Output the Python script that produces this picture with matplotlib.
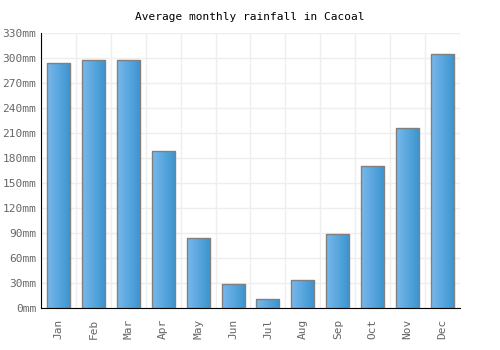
import numpy as np
import matplotlib.pyplot as plt
from matplotlib.colors import LinearSegmentedColormap

months = ['Jan', 'Feb', 'Mar', 'Apr', 'May', 'Jun', 'Jul', 'Aug', 'Sep', 'Oct', 'Nov', 'Dec']
rainfall = [294, 297, 298, 188, 84, 29, 11, 34, 89, 170, 216, 305]
yticks = list(range(0, 331, 30))

fig = plt.figure(figsize=(5, 3.5), dpi=100)
ax = fig.add_axes([0.082, 0.12, 0.838, 0.786])

x = np.arange(len(months))
bars = ax.bar(x, rainfall, width=0.66, color='none', edgecolor='#808080', linewidth=1, zorder=3)

# horizontal gradient inside each bar
cmap = LinearSegmentedColormap.from_list('rain', ['#78b8ec', '#3a94cf'])
grad = np.linspace(0, 1, 64).reshape(1, -1)
for b in bars:
    im = ax.imshow(grad, cmap=cmap, aspect='auto', zorder=2,
                   extent=[b.get_x(), b.get_x() + b.get_width(), 0, b.get_height()])
    im.set_clip_path(b)

ax.set_xlim(-0.5, len(months) - 0.5)
ax.set_ylim(0, 330)
ax.set_yticks(yticks)
ax.set_yticklabels([f'{v}mm' for v in yticks])
ax.set_xticks(x)
ax.set_xticklabels(months, rotation=90)
ax.set_xticks(np.arange(-0.5, len(months)), minor=True)

ax.grid(True, which='minor', axis='x', color='#eeeeee', linewidth=1, zorder=0)
ax.grid(True, which='major', axis='y', color='#eeeeee', linewidth=1, zorder=0)
ax.tick_params(axis='both', which='both', length=0, labelsize=8, labelcolor='#666666',
               labelfontfamily='DejaVu Sans Mono')
ax.tick_params(axis='x', pad=8)

for side in ['top', 'right']:
    ax.spines[side].set_visible(False)
ax.spines['left'].set_color('black')
ax.spines['bottom'].set_color('black')

fig.text(0.5, 0.952, 'Average monthly rainfall in Cacoal', ha='center', va='center',
         fontsize=8, family='DejaVu Sans Mono')

fig.savefig('out.png')
